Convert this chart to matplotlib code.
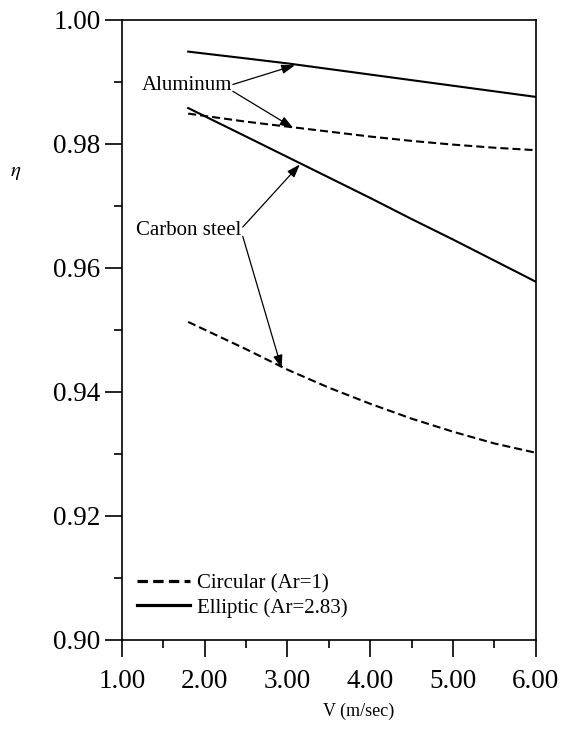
import matplotlib
matplotlib.use("Agg")
import matplotlib.pyplot as plt
from matplotlib.lines import Line2D
from matplotlib.ticker import MultipleLocator, FormatStrFormatter

plt.rcParams['font.family'] = ['Liberation Serif', 'DejaVu Serif']
plt.rcParams['mathtext.fontset'] = 'stix'
plt.rcParams['lines.scale_dashes'] = False

V = [1.8, 2.5, 3.0, 3.5, 4.0, 4.5, 5.0, 5.5, 6.0]
al_elliptic = [0.9949, 0.9938, 0.9930, 0.9921, 0.9912, 0.9903, 0.9894, 0.9885, 0.9876]
al_circular = [0.9849, 0.9836, 0.9828, 0.9820, 0.9812, 0.9805, 0.9799, 0.9794, 0.9790]
cs_elliptic = [0.9858, 0.9812, 0.9779, 0.9746, 0.9713, 0.9679, 0.9646, 0.9612, 0.9578]
cs_circular = [0.9513, 0.9469, 0.9436, 0.9407, 0.9381, 0.9357, 0.9336, 0.9317, 0.9302]

x_ticks = [1.0, 2.0, 3.0, 4.0, 5.0, 6.0]
y_ticks = [0.90, 0.92, 0.94, 0.96, 0.98, 1.00]
legend_labels = ["Circular (Ar=1)", "Elliptic (Ar=2.83)"]

fig = plt.figure(figsize=(5.65, 7.35), dpi=100)
ax = fig.add_axes([0.2159, 0.1293, 0.7321, 0.8435])

dash = (5.8, 2.9)
lw = 1.5
ax.plot(V, al_elliptic, color='black', lw=lw)
ax.plot(V, cs_elliptic, color='black', lw=lw)
ax.plot(V, al_circular, color='black', lw=lw, linestyle=(0, dash))
ax.plot(V, cs_circular, color='black', lw=lw, linestyle=(0, dash))

ax.set_xlim(1.0, 6.0)
ax.set_ylim(0.90, 1.00)
ax.set_xticks(x_ticks)
ax.set_yticks(y_ticks)
ax.xaxis.set_minor_locator(MultipleLocator(0.5))
ax.yaxis.set_minor_locator(MultipleLocator(0.01))
ax.xaxis.set_major_formatter(FormatStrFormatter('%.2f'))
ax.yaxis.set_major_formatter(FormatStrFormatter('%.2f'))
ax.tick_params(which='both', direction='out', top=False, right=False, width=1.2)
ax.tick_params(which='major', length=12.5, labelsize=19.5)
ax.tick_params(axis='x', which='major', pad=8.5)
ax.tick_params(axis='y', which='major', pad=3)
ax.tick_params(which='minor', length=6)
for s in ax.spines.values():
    s.set_linewidth(1.2)

# annotations
arrowprops = dict(arrowstyle='-|>,head_length=0.8,head_width=0.28', color='black', lw=0.9,
                  shrinkA=0, shrinkB=0)
ax.text(1.24, 0.9895, "Aluminum", fontsize=15, ha='left', va='center')
ax.annotate("", xy=(3.09, 0.9927), xytext=(2.34, 0.9896), arrowprops=arrowprops)
ax.annotate("", xy=(3.07, 0.9826), xytext=(2.34, 0.9885), arrowprops=arrowprops)
ax.text(1.17, 0.9660, "Carbon steel", fontsize=15, ha='left', va='center')
ax.annotate("", xy=(3.15, 0.9767), xytext=(2.46, 0.9666), arrowprops=arrowprops)
ax.annotate("", xy=(2.93, 0.9438), xytext=(2.46, 0.9651), arrowprops=arrowprops)

handles = [Line2D([], [], color='black', lw=2.3, linestyle=(0, (7.5, 3.8))),
           Line2D([], [], color='black', lw=2.3)]
ax.legend(handles, legend_labels, loc='lower left', bbox_to_anchor=(0.036, 0.036),
          frameon=False, fontsize=15, handlelength=2.55, handletextpad=0.35,
          labelspacing=0.2, borderpad=0, borderaxespad=0)

fig.text(359 / 565, 1 - 711 / 735, "V (m/sec)", fontsize=13, ha='center', va='center')
fig.text(16 / 565, 1 - 173 / 735, r"$\eta$", fontsize=15, ha='center', va='center')

fig.savefig("out.png", dpi=100)
